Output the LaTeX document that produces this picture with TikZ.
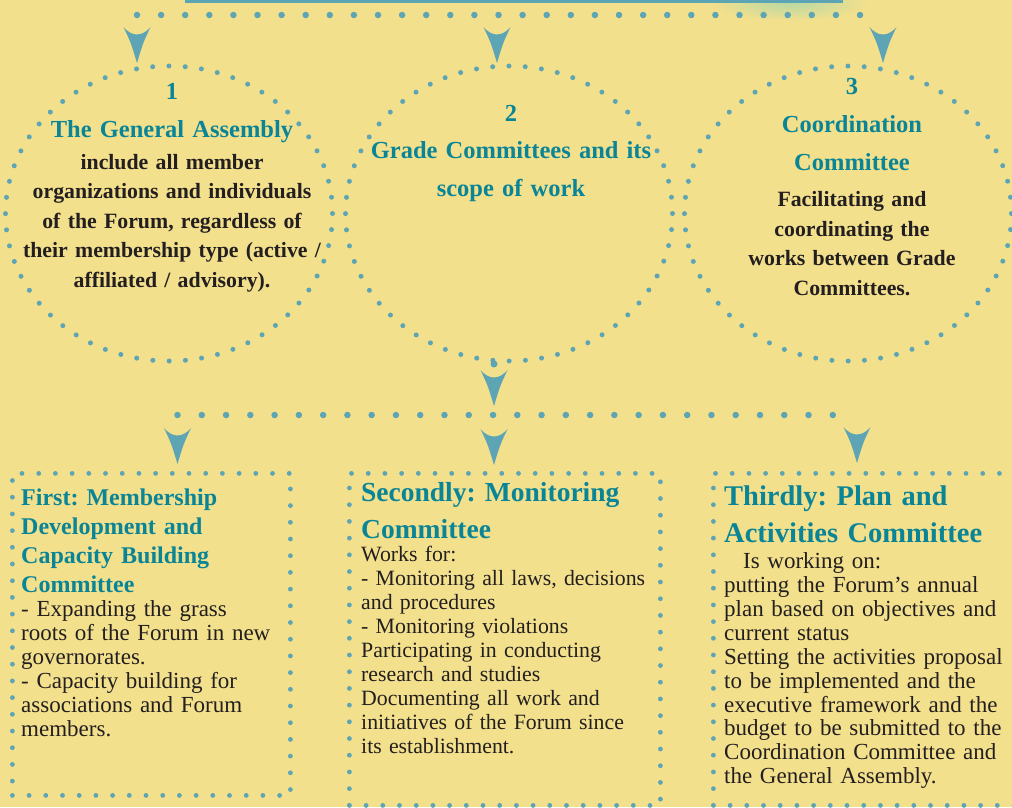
\documentclass[tikz,border=0pt]{standalone}
\usepackage{fontspec}
\setmainfont{Liberation Serif}
\usetikzlibrary{shapes.geometric}
\frenchspacing
\definecolor{bgc}{HTML}{F3E08C}
\definecolor{dotc}{HTML}{5DA5B4}
\definecolor{ttlc}{HTML}{0A8597}
\definecolor{txtc}{HTML}{231F20}
\definecolor{glowc}{HTML}{B9D8A4}
\newcommand\vtip[1]{\fill[dotc] ([shift={(-13.5,-36)}]#1) .. controls ([shift={(-5,-26)}]#1) and ([shift={(5,-26)}]#1) .. ([shift={(13.5,-36)}]#1) .. controls ([shift={(6,-20)}]#1) .. (#1) .. controls ([shift={(-6,-20)}]#1) .. cycle;}
\tikzset{
  dotline/.style={draw=dotc, line width=6.5pt, line cap=round, dash pattern=on 0pt off 24.1pt},
  dotring/.style={ellipse, draw=dotc, line width=5pt, line cap=round, dash pattern=on 0pt off 16.3pt, minimum width=327pt, minimum height=295pt, inner sep=0pt},
  dotbox/.style={rectangle, draw=dotc, line width=4.8pt, line cap=round, dash pattern=on 0pt off 16.7pt, inner sep=0pt, anchor=north west},
  numtxt/.style={text=ttlc, font=\bfseries\fontsize{24.5}{30}\selectfont, inner sep=0pt, anchor=base},
  ctitle/.style={text=ttlc, inner sep=0pt, anchor=base, align=center, text width=330pt},
  cbody/.style={text=txtc, inner sep=0pt, anchor=base, align=center, text width=330pt, font=\bfseries\fontsize{21.8}{29.5}\selectfont},
  btitle/.style={text=ttlc, inner sep=0pt, anchor=base west, align=left, text width=320pt},
  bbody/.style={text=txtc, inner sep=0pt, anchor=base west, align=left, text width=320pt, font=\fontsize{23}{23.95}\selectfont},
}
\begin{document}
\begin{tikzpicture}[x=1pt,y=-1pt]
\useasboundingbox (0,0) rectangle (1012,807);
\clip (0,0) rectangle (1012,807);
\fill[bgc] (0,0) rectangle (1012,807);
\shade[inner color=glowc, outer color=bgc] (790,3) ellipse [x radius=80, y radius=18];
\node[fill=dotc, inner sep=0pt, minimum width=658pt, minimum height=3pt, anchor=north west] (bar) at (185,0) {};

% top connector
\coordinate (tl) at (137,15);
\coordinate (tr) at (883,15);
\draw[dotline] (tl) -- (tr);
\coordinate (a1) at (137,63);
\coordinate (a2) at (497,63);
\coordinate (a3) at (883,63);
\vtip{a1}\vtip{a2}\vtip{a3}

% circles
\node[dotring] (e1) at (169,213.5) {};
\node[dotring] (e2) at (509,213.5) {};
\node[dotring] (e3) at (848,213.5) {};

\node[numtxt] (n1) at (172,99) {1};
\node[ctitle, font=\bfseries\fontsize{24.5}{38}\selectfont] (t1) at (172,137) {The General Assembly};
\node[cbody] (d1) at (172,169.3) {include all member\\organizations and individuals\\of the Forum, regardless of\\their membership type (active /\\affiliated / advisory).};

\node[numtxt] (n2) at (511,121) {2};
\node[ctitle, font=\bfseries\fontsize{24.5}{38}\selectfont] (t2) at (511,158.3) {Grade Committees and its\\scope of work};

\node[numtxt] (n3) at (852,94.3) {3};
\node[ctitle, font=\bfseries\fontsize{24.5}{37.3}\selectfont] (t3) at (852,132.7) {Coordination\\Committee};
\node[cbody] (d3) at (852,206.7) {Facilitating and\\coordinating the\\works between Grade\\Committees.};

% middle connector
\coordinate (e2s) at (494,364);
\fill[dotc] (e2s) circle (3.5pt);
\coordinate (m0) at (494,406);
\vtip{m0}
\coordinate (ml) at (177.5,415);
\coordinate (mr) at (857,415);
\draw[dotline, dash pattern=on 0pt off 24.27pt] (ml) -- (mr);
\coordinate (l1) at (177.5,464);
\coordinate (l2) at (494,465);
\coordinate (l3) at (857,463);
\vtip{l1}\vtip{l2}\vtip{l3}

% boxes
\node[dotbox, minimum width=278pt, minimum height=322pt] (b1) at (10,471) {};
\node[dotbox, minimum width=311pt, minimum height=332pt] (b2) at (347,471) {};
\node[dotbox, minimum width=311pt, minimum height=332pt] (b3) at (711,471) {};

\node[btitle, font=\bfseries\fontsize{24}{29}\selectfont] (h1) at (21,505) {First: Membership\\Development and\\Capacity Building\\Committee};
\node[bbody] (p1) at (21,616.7) {- Expanding the grass\\roots of the Forum in new\\governorates.\\- Capacity building for\\associations and Forum\\members.};

\node[btitle, font=\bfseries\fontsize{27.5}{36.7}\selectfont] (h2) at (361,501.7) {Secondly: Monitoring\\Committee};
\node[bbody, font=\fontsize{21.8}{23.95}\selectfont] (p2) at (361,561.7) {Works for:\\- Monitoring all laws, decisions\\and procedures\\- Monitoring violations\\Participating in conducting\\research and studies\\Documenting all work and\\initiatives of the Forum since\\its establishment.};

\node[btitle, font=\bfseries\fontsize{28.5}{37.7}\selectfont] (h3) at (724,505) {Thirdly: Plan and\\Activities Committee};
\node[bbody] (p3) at (724,568.3) {\hspace*{19pt}Is working on:\\putting the Forum’s annual\\plan based on objectives and\\current status\\Setting the activities proposal\\to be implemented and the\\executive framework and the\\budget to be submitted to the\\Coordination Committee and\\the General Assembly.};
\end{tikzpicture}
\end{document}
